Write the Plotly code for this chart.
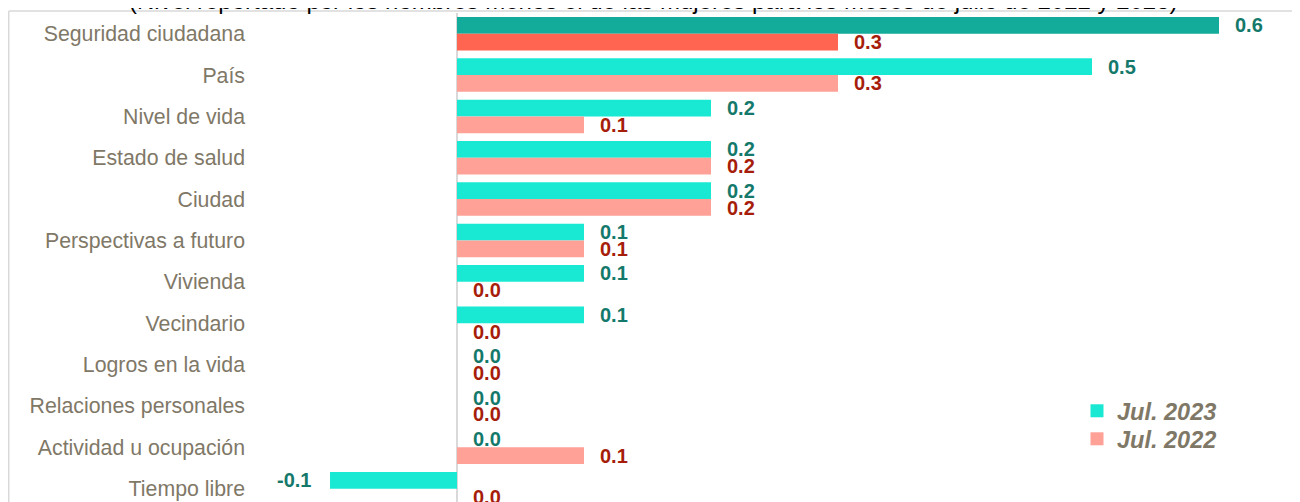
import plotly.graph_objects as go

categories = ["Seguridad ciudadana", "País", "Nivel de vida", "Estado de salud", "Ciudad",
              "Perspectivas a futuro", "Vivienda", "Vecindario", "Logros en la vida",
              "Relaciones personales", "Actividad u ocupación", "Tiempo libre"]
jul_2023 = [0.6, 0.5, 0.2, 0.2, 0.2, 0.1, 0.1, 0.1, 0.0, 0.0, 0.0, -0.1]
jul_2022 = [0.3, 0.3, 0.1, 0.2, 0.2, 0.1, 0.0, 0.0, 0.0, 0.0, 0.1, 0.0]
series_names = ["Jul. 2023", "Jul. 2022"]
title_text = "(Nivel reportado por los hombres menos el de las mujeres para los meses de julio de 2022 y 2023)"

FONT = "Arial, 'Liberation Sans', sans-serif"
C23, C23_HI = "#19E9D3", "#13AB9A"
C22, C22_HI = "#FFA197", "#FF6550"
L23, L22 = "#14796B", "#A61D0B"
GRAY_TXT = "#7F7867"

# the page puts the figure 8px in from the top-left corner
W, H = 1292, 494
ML, MR, MT, MB = 242, 0, 5, 0
PW, PH = W - ML - MR, H - MT - MB
X0PIX = 449
PX_PER_UNIT = 1270
xr = [(ML - X0PIX) / PX_PER_UNIT, (W - MR - X0PIX) / PX_PER_UNIT]
ROW = 41.36
yr = [-0.5 + PH / ROW, -0.5]

cols23 = [C23_HI] + [C23] * (len(categories) - 1)
cols22 = [C22_HI] + [C22] * (len(categories) - 1)

fig = go.Figure()
fig.add_trace(go.Bar(y=categories, x=jul_2023, orientation="h", name=series_names[0],
                     marker=dict(color=cols23, line=dict(width=0)), showlegend=False))
fig.add_trace(go.Bar(y=categories, x=jul_2022, orientation="h", name=series_names[1],
                     marker=dict(color=cols22, line=dict(width=0)), showlegend=False))
# legend entries (swatches in the regular series colours)
fig.add_trace(go.Scatter(x=[None], y=[None], mode="markers", name=series_names[0],
                         marker=dict(symbol="square", size=13, color=C23),
                         showlegend=True, legend="legend"))
fig.add_trace(go.Scatter(x=[None], y=[None], mode="markers", name=series_names[1],
                         marker=dict(symbol="square", size=13, color=C22),
                         showlegend=True, legend="legend2"))

ann = []
BAR_HALF = 8.4
for vals, col, ysh in ((jul_2023, L23, BAR_HALF), (jul_2022, L22, -BAR_HALF)):
    for c, v in zip(categories, vals):
        neg = v < 0
        ann.append(dict(x=v, y=c, xref="x", yref="y", text=f"{v:.1f}", showarrow=False,
                        xanchor="right" if neg else "left", yanchor="middle",
                        xshift=-17 if neg else 14, yshift=ysh,
                        font=dict(family=FONT, size=20, color=col, weight="bold")))

# title (its top is cut by the page edge in the reference)
ann.append(dict(text=title_text, xref="paper", yref="paper",
                x=(645.5 - ML) / PW, y=1 + (MT + 7.3) / PH,
                xanchor="center", yanchor="middle", showarrow=False,
                font=dict(family=FONT, size=24, color="black")))

fl = (0.75 - ML) / PW
ft = 1 + (MT - 3) / PH
shapes = [
    dict(type="line", xref="paper", yref="paper", x0=fl, x1=1.05, y0=ft, y1=ft,
         line=dict(color="#D9D9D9", width=1.5), layer="below"),
    dict(type="line", xref="paper", yref="paper", x0=fl, x1=fl, y0=-0.05, y1=ft,
         line=dict(color="#D9D9D9", width=1.5), layer="below"),
]

leg_font = dict(family=FONT, size=23.5, color=GRAY_TXT, style="italic", weight="bold")
leg_x = (1069 - ML) / PW

fig.update_layout(
    width=W, height=H,
    margin=dict(l=ML, r=MR, t=MT, b=MB, pad=0),
    paper_bgcolor="white", plot_bgcolor="white",
    barmode="group", bargap=0.19, bargroupgap=0,
    font=dict(family=FONT),
    xaxis=dict(range=xr, showgrid=False, showticklabels=False, ticks="",
               zeroline=True, zerolinecolor="#D9D9D9", zerolinewidth=2,
               showline=False, fixedrange=True),
    yaxis=dict(type="category", categoryorder="array", categoryarray=categories,
               range=yr, showgrid=False, ticks="", showline=False, zeroline=False,
               automargin=False, ticklabelstandoff=4,
               tickfont=dict(family=FONT, size=21.3, color=GRAY_TXT)),
    legend=dict(x=leg_x, xanchor="left", y=(H - 381) / PH, yanchor="top",
                bgcolor="rgba(0,0,0,0)", itemwidth=30, font=leg_font),
    legend2=dict(x=leg_x, xanchor="left", y=(H - 409) / PH, yanchor="top",
                 bgcolor="rgba(0,0,0,0)", itemwidth=30, font=leg_font),
    annotations=ann,
    shapes=shapes,
)

fig.write_html("out.html")
